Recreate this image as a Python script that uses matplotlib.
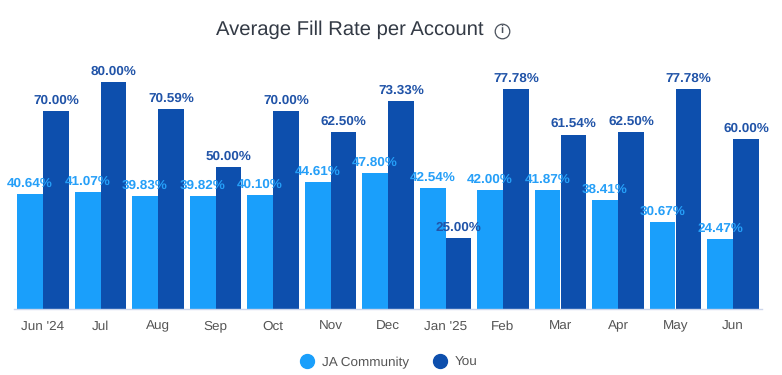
import matplotlib.pyplot as plt
from matplotlib.lines import Line2D

plt.rcParams['font.family'] = ['Liberation Sans', 'DejaVu Sans']
plt.rcParams['text.hinting'] = 'no_hinting'

months = ["Jun '24", 'Jul', 'Aug', 'Sep', 'Oct', 'Nov', 'Dec', "Jan '25", 'Feb', 'Mar', 'Apr', 'May', 'Jun']
community = [40.64, 41.07, 39.83, 39.82, 40.10, 44.61, 47.80, 42.54, 42.00, 41.87, 38.41, 30.67, 24.47]
you = [70.00, 80.00, 70.59, 50.00, 70.00, 62.50, 73.33, 25.00, 77.78, 61.54, 62.50, 77.78, 60.00]

W, H = 782, 375
light = '#1A9FFB'
dark = '#0D4FAD'

fig = plt.figure(figsize=(W / 100, H / 100), dpi=100)
# axes box in pixels of the reference
ax = fig.add_axes([14.25 / W, (H - 308.7) / H, 747.5 / W, 254.7 / H])

width = 0.449
x = list(range(len(months)))
ax.bar([i - width / 2 for i in x], community, width, color=light, linewidth=0, zorder=2)
ax.bar([i + width / 2 for i in x], you, width, color=dark, linewidth=0, zorder=2)

for i in x:
    ax.annotate('%.2f%%' % you[i], (i + width / 2, you[i]), xytext=(0, 7.6), textcoords='offset points',
                ha='center', va='center', fontsize=9.7, fontweight='bold', color='#2154A8', zorder=5)
    ax.annotate('%.2f%%' % community[i], (i - width / 2, community[i]), xytext=(0, 7.6), textcoords='offset points',
                ha='center', va='center', fontsize=9.7, fontweight='bold', color='#259FF8', zorder=6)

ax.set_xlim(-0.5, len(months) - 0.5)
ax.set_ylim(0, 90)
ax.set_xticks(x)
ax.set_xticklabels(months, fontsize=9.7, color='#555555', va='baseline')
ax.tick_params(axis='x', length=0, pad=15)
ax.set_yticks([])
for s in ['top', 'left', 'right']:
    ax.spines[s].set_visible(False)
ax.spines['bottom'].set_color('#CCD6EB')
ax.spines['bottom'].set_linewidth(1)

fig.text(350 / W, 1 - 30 / H, 'Average Fill Rate per Account', ha='center', va='center',
         fontsize=14.6, color='#333A45')

# info icon next to the title
fig.add_artist(Line2D([501.7 / W], [1 - 30.5 / H], marker='o', markersize=10.5, markerfacecolor='none',
                      markeredgecolor='#4A515C', markeredgewidth=0.9, transform=fig.transFigure))
fig.text(501.7 / W, 1 - 30.5 / H, 'i', ha='center', va='center', fontsize=8, fontweight='bold', color='#4A515C')

handles = [Line2D([], [], linestyle='none', marker='o', markersize=10, color=light),
           Line2D([], [], linestyle='none', marker='o', markersize=10, color=dark)]
fig.legend(handles, ['JA Community', 'You'], loc='center', bbox_to_anchor=(385.5 / W, 1 - 362.5 / H), ncol=2,
           frameon=False, fontsize=9.7, labelcolor='#555555', handletextpad=0.15, columnspacing=1.25)

fig.savefig('out.png', dpi=100)
